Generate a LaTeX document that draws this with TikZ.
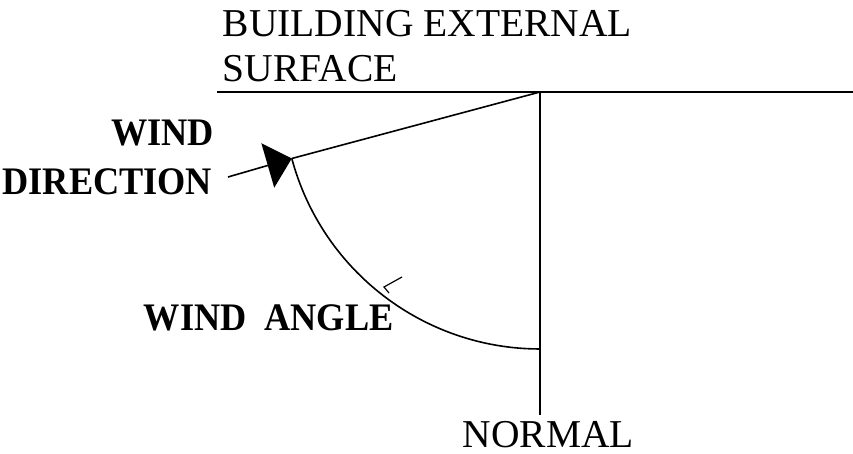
\documentclass[tikz,border=0pt]{standalone}
\usepackage{fontspec}
\setmainfont{Liberation Serif}
\newfontfamily\boldlabel[FakeStretch=0.93]{Liberation Serif}
\usepackage{tikz}
\usetikzlibrary{arrows.meta,positioning}

\begin{document}
\begin{tikzpicture}[x=1pt, y=-1pt, line width=1.6pt,
  label/.style={inner sep=0pt, font=\fontsize{39.5}{44}\selectfont},
  boldlabel/.style={inner sep=0pt, font=\boldlabel\bfseries\fontsize{39}{44}\selectfont},
  arrow/.style={-{Triangle[length=25pt, width=46pt]}}]
\path[use as bounding box] (0,0) rectangle (853,454);
% reference points
\coordinate (o) at (540,92);
\coordinate (left) at (217,92);
\coordinate (right) at (853,92);
\coordinate (bottom) at (540,415);
\coordinate (tail) at (228,177);
\coordinate (tip) at (291.8,158.5);
% labels
\node[label, anchor=base west] (surf1) at (222,37) {BUILDING EXTERNAL};
\node[label, anchor=base west] (surf2) at (222,82) {SURFACE};
\node[boldlabel, anchor=base east] (dir1) at (215,146) {WIND};
\node[boldlabel, anchor=base east] (dir2) at (213,195) {DIRECTION};
\node[boldlabel, anchor=base west] (ang) at (143,330) {WIND\hspace{18pt}ANGLE};
\node[label, anchor=base west] (norm) at (462,447) {NORMAL};
% lines
\draw (left) -- (right);
\draw (o) -- (bottom);
\draw[arrow] (tail) -- (tip);
\draw (tip) -- (o);
\draw (tip) arc[start angle=195, end angle=270, radius=257pt];
\draw[line width=1.2pt] (402,277) -- (384,287) -- (389,293);
\end{tikzpicture}
\end{document}
